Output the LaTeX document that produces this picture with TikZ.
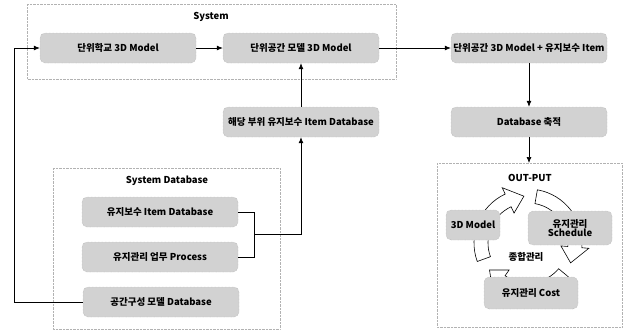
\documentclass[tikz,border=0pt]{standalone}
\usepackage{fontspec}
\setmainfont{Noto Sans CJK KR}
\usepackage{tikz}
\usetikzlibrary{arrows.meta}

\tikzset{
  box/.style={draw=gray!70, densely dotted, fill=gray!35, rounded corners=5pt,
    minimum width=156pt, minimum height=30pt, inner sep=0pt,
    font={\fontsize{9.5}{10.5}\selectfont\bfseries}},
  group/.style={draw=gray!60, densely dotted, line width=0.4pt},
  title/.style={font={\fontsize{9.5}{11}\selectfont\bfseries}},
  link/.style={line width=0.7pt, -{Latex[length=6pt,width=5pt]}},
  wire/.style={line width=0.7pt},
  ring/.style={draw=black, fill=white, line width=0.6pt}
}

\begin{document}
\begin{tikzpicture}[x=1pt, y=-1pt]
        \useasboundingbox (0,0) rectangle (626,330);

        % groups
        \draw[group] (27,4) rectangle (396,79);
        \node[title] (systitle) at (211,17) {System};
        \draw[group] (53,168) rectangle (280,329);
        \node[title] (dbtitle) at (167,181) {System Database};
        \draw[group] (437,163) rectangle (622,327);
        \node[title] (outtitle) at (530,178) {OUT-PUT};
        \coordinate (outtop) at (529,163);

        % cycle
        \begin{scope}[shift={(528,243)}, yscale=-1]
            \foreach \a/\b in {200/115, 80/-5, -40/-125}{
                \draw[ring] (\a:54) arc[start angle=\a, end angle=\b, radius=54]
                    -- (\b:61) -- ({\b-20}:47) -- (\b:33)
                    -- (\b:40) arc[start angle=\b, end angle=\a, radius=40] -- cycle;
            }
        \end{scope}

        % top row
        \node[box] (school) at (118,48) {단위학교 3D Model};
        \node[box] (spacemodel) at (301,48) {단위공간 모델 3D Model};
        \node[box] (combined) at (529,48) {단위공간 3D Model + 유지보수 Item};
        \node[box] (accum) at (529,122) {Database 축적};
        \node[box] (partdb) at (301,122) {해당 부위 유지보수 Item Database};

        % database
        \node[box] (itemdb) at (160,212) {유지보수 Item Database};
        \node[box] (process) at (160,257) {유지관리 업무 Process};
        \node[box] (spacedb) at (161,302) {공간구성 모델 Database};

        % output
        \node[box, minimum width=54pt, minimum height=30pt] (outmodel) at (473,225) {3D Model};
        \node[box, minimum width=84pt, minimum height=34pt, align=center] (schedule) at (570,228) {유지관리\\[-2pt]Schedule};
        \node[box, minimum width=94pt, minimum height=32pt] (cost) at (531,293) {유지관리 Cost};
        \node[font={\fontsize{9.5}{11}\selectfont\bfseries}, fill=white, inner sep=1pt] (center) at (526,257) {종합관리};

        % connectors
        \draw[link] (school) -- (spacemodel);
        \draw[link] (spacemodel) -- (combined);
        \draw[link] (combined) -- (accum);
        \draw[link] (accum) -- (outtop);
        \draw[link] (partdb) -- (spacemodel);
        \coordinate (join) at (254,234);
        \draw[wire] (itemdb.east) -| (join);
        \draw[wire] (process.east) -| (join);
        \draw[link] (join) -| (partdb.south);
        \draw[link] (spacedb.west) -| (14,48) -- (school.west);
\end{tikzpicture}
\end{document}
